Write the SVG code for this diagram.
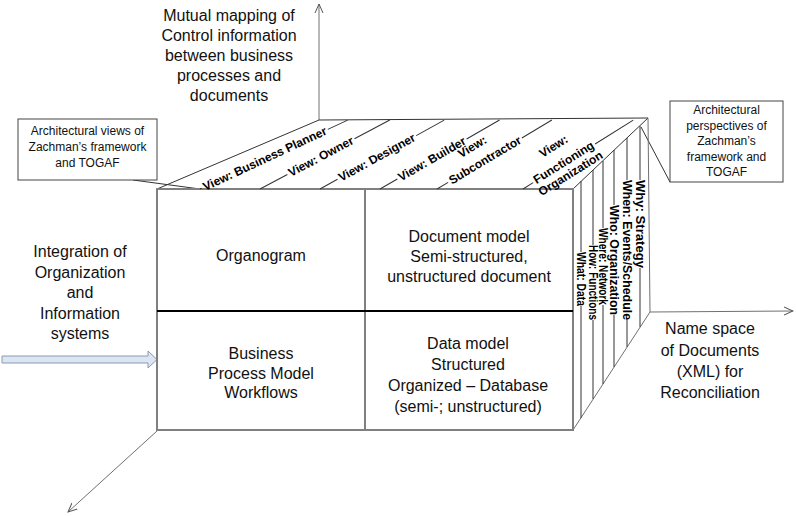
<svg xmlns="http://www.w3.org/2000/svg" width="796" height="516" viewBox="0 0 796 516">
<defs>
<style>
.edge{stroke:#808080;stroke-width:2;fill:none}
.mid{stroke:#000;stroke-width:2;fill:none}
.thin{stroke:#333;stroke-width:1;fill:none}
.gline{stroke:#707070;stroke-width:1;fill:none}
.t16{font-family:"Liberation Sans",Arial,sans-serif;font-size:16px;fill:#111;text-anchor:middle}
.t12{font-family:"Liberation Sans",Arial,sans-serif;font-size:12px;fill:#111;text-anchor:middle}
.lbl{font-family:"Liberation Sans",Arial,sans-serif;font-size:12px;font-weight:bold;fill:#000}
.box{fill:#fff;stroke:#444;stroke-width:1}
</style>
<marker id="open" viewBox="0 0 10 10" refX="9" refY="5" markerWidth="10" markerHeight="10" markerUnits="userSpaceOnUse" orient="auto">
<path d="M0,1 L9,5 L0,9" fill="none" stroke="#555" stroke-width="1"/>
</marker>
</defs>
<rect width="796" height="516" fill="#fff"/>

<g id="connectors">
<line class="gline" x1="319" y1="120" x2="319" y2="4" marker-end="url(#open)"/>
<line class="gline" x1="650" y1="312" x2="793" y2="311" marker-end="url(#open)"/>
<line class="gline" x1="157" y1="431" x2="68" y2="512" marker-end="url(#open)"/>
<polygon points="2,356 148,356 148,351 157,359.5 148,368 148,363 2,363" fill="#dce6f2" stroke="#8a9ab2" stroke-width="1"/>
<line class="thin" x1="133" y1="180" x2="200" y2="189"/>
<line class="thin" x1="670" y1="182" x2="641" y2="127"/>
</g>

<g id="cube">
<path class="thin" d="M157,189 L319,120 L648,118 L573,189"/>
<path class="gline" d="M648,118 L650,312 L573,430"/>
<rect class="edge" x="157" y="189" width="416" height="241"/>
<line class="edge" x1="365" y1="189" x2="365" y2="430"/>
<line class="mid" x1="157" y1="311" x2="573" y2="311"/>
</g>

<g id="top-views">
<g id="view-planner" transform="translate(200,189) rotate(-25)">
<path class="thin" d="M0,0H2M141,0H163"/>
<text class="lbl" x="4" y="4" textLength="135" lengthAdjust="spacingAndGlyphs">View: Business Planner</text>
</g>
<g id="view-owner" transform="translate(260,189) rotate(-28)">
<path class="thin" d="M0,0H31M107,0H147"/>
<text class="lbl" x="33" y="4" textLength="72" lengthAdjust="spacingAndGlyphs">View: Owner</text>
</g>
<g id="view-designer" transform="translate(320,189) rotate(-29)">
<path class="thin" d="M0,0H20M110,0H142"/>
<text class="lbl" x="22" y="4" textLength="86" lengthAdjust="spacingAndGlyphs">View: Designer</text>
</g>
<g id="view-builder" transform="translate(380,189) rotate(-30)">
<path class="thin" d="M0,0H20M100,0H138"/>
<text class="lbl" x="22" y="4" textLength="76" lengthAdjust="spacingAndGlyphs">View: Builder</text>
</g>
<g id="view-subcontractor" transform="translate(437,189) rotate(-31)">
<path class="thin" d="M0,0H13M99,0H134"/>
<text class="lbl" x="52" y="-14" text-anchor="middle">View:</text>
<text class="lbl" x="15" y="4" textLength="82" lengthAdjust="spacingAndGlyphs">Subcontractor</text>
</g>
<g id="view-functioning" transform="translate(523,189) rotate(-32)">
<path class="thin" d="M0,0H12M85,0H130"/>
<text class="lbl" x="48.5" y="-16" text-anchor="middle">View:</text>
<text class="lbl" x="14" y="3" textLength="69" lengthAdjust="spacingAndGlyphs">Functioning</text>
<text class="lbl" x="48.5" y="16" text-anchor="middle">Organization</text>
</g>
</g>

<g id="side-perspectives">
<g id="what" transform="translate(581,0)">
<path class="thin" d="M0,181V252M0,306V418"/>
<text class="lbl" transform="translate(0,252) rotate(90)" x="0" y="4" textLength="54" lengthAdjust="spacingAndGlyphs">What: Data</text>
</g>
<g id="how" transform="translate(593,0)">
<path class="thin" d="M0,170V245M0,320V399"/>
<text class="lbl" transform="translate(0,245) rotate(90)" x="0" y="4" textLength="75" lengthAdjust="spacingAndGlyphs">How: Functions</text>
</g>
<g id="where" transform="translate(603,0)">
<path class="thin" d="M0,161V228M0,305V384"/>
<text class="lbl" transform="translate(0,228) rotate(90)" x="0" y="4" textLength="77" lengthAdjust="spacingAndGlyphs">Where: Network</text>
</g>
<g id="who" transform="translate(614,0)">
<path class="thin" d="M0,150V205M0,315V367"/>
<text class="lbl" transform="translate(0,205) rotate(90)" x="0" y="4" textLength="110" lengthAdjust="spacingAndGlyphs">Who: Organization</text>
</g>
<g id="when" transform="translate(627,0)">
<path class="thin" d="M0,138V180M0,320V347"/>
<text class="lbl" transform="translate(0,180) rotate(90)" x="0" y="4" textLength="140" lengthAdjust="spacingAndGlyphs">When: Events/Schedule</text>
</g>
<g id="why" transform="translate(640,0)">
<path class="thin" d="M0,126V180M0,268V327"/>
<text class="lbl" transform="translate(0,180) rotate(90)" x="0" y="4" textLength="88" lengthAdjust="spacingAndGlyphs">Why: Strategy</text>
</g>
</g>

<g id="organogram"><text class="t16" x="261" y="261">Organogram</text></g>
<g id="document-model">
<text class="t16" x="469" y="242">Document model</text>
<text class="t16" x="469" y="262">Semi-structured,</text>
<text class="t16" x="469" y="282">unstructured document</text>
</g>
<g id="business-process">
<text class="t16" x="261" y="359">Business</text>
<text class="t16" x="261" y="379">Process Model</text>
<text class="t16" x="261" y="398">Workflows</text>
</g>
<g id="data-model">
<text class="t16" x="468" y="349">Data model</text>
<text class="t16" x="468" y="370">Structured</text>
<text class="t16" x="468" y="391">Organized – Database</text>
<text class="t16" x="468" y="412">(semi-; unstructured)</text>
</g>

<g id="mutual-mapping">
<text class="t16" x="229" y="21">Mutual mapping of</text>
<text class="t16" x="229" y="41">Control information</text>
<text class="t16" x="229" y="61">between business</text>
<text class="t16" x="229" y="81">processes and</text>
<text class="t16" x="229" y="101">documents</text>
</g>
<g id="integration">
<text class="t16" x="80" y="257">Integration of</text>
<text class="t16" x="80" y="277.5">Organization</text>
<text class="t16" x="80" y="298">and</text>
<text class="t16" x="80" y="318.5">Information</text>
<text class="t16" x="80" y="339">systems</text>
</g>
<g id="namespace">
<text class="t16" x="710" y="334">Name space</text>
<text class="t16" x="710" y="355.5">of Documents</text>
<text class="t16" x="710" y="377">(XML) for</text>
<text class="t16" x="710" y="398">Reconciliation</text>
</g>

<g id="callout-views">
<rect class="box" x="18" y="119" width="139" height="61"/>
<text class="t12" x="87.5" y="135">Architectural views of</text>
<text class="t12" x="87.5" y="151">Zachman’s framework</text>
<text class="t12" x="87.5" y="167">and TOGAF</text>
</g>
<g id="callout-perspectives">
<rect class="box" x="670" y="101" width="113" height="81"/>
<text class="t12" x="726.5" y="114">Architectural</text>
<text class="t12" x="726.5" y="129.5">perspectives of</text>
<text class="t12" x="726.5" y="145">Zachman’s</text>
<text class="t12" x="726.5" y="160.5">framework and</text>
<text class="t12" x="726.5" y="176">TOGAF</text>
</g>
</svg>
